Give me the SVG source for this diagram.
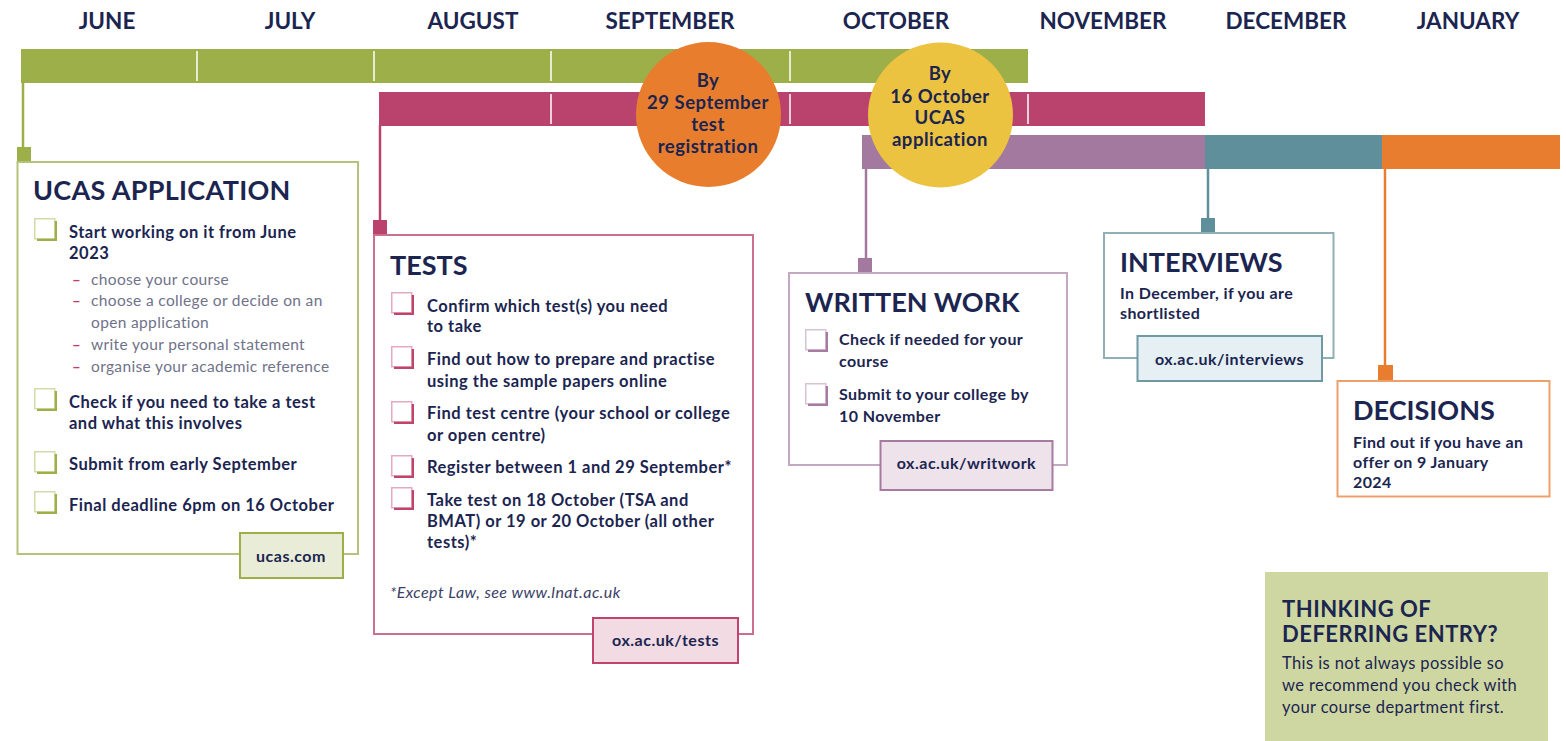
<svg xmlns="http://www.w3.org/2000/svg" width="1566" height="741" viewBox="0 0 1566 741">
<defs>
<style>
text{font-family:Lato,"Open Sans","Liberation Sans",sans-serif;fill:#1b2550}
.mon{font-size:22.5px;font-weight:700;text-anchor:middle}
.title{font-size:27px;font-weight:700}
.b{font-size:16.5px;font-weight:700;letter-spacing:0.5px}
.bs{font-size:16px;font-weight:700;letter-spacing:0.4px}
.sub{font-size:15.5px;fill:#70728a;letter-spacing:0.35px}
.dash{fill:#c23d6b;font-size:15px;font-weight:700}
.ct{font-size:18.5px;font-weight:700;text-anchor:middle;letter-spacing:0.5px}
.lnk{font-size:16px;font-weight:700;text-anchor:middle;letter-spacing:0.5px}
.div{stroke:#fff;stroke-width:1.5}
</style>
<symbol id="cb" viewBox="0 0 24 24" overflow="visible">
<rect x="3" y="3" width="20" height="20" fill="currentColor"/>
<rect x="0.75" y="0.75" width="20" height="20" fill="#fff" stroke="currentColor" stroke-opacity="0.45" stroke-width="1.5"/>
</symbol>
</defs>
<rect width="1566" height="741" fill="#fff"/>

<g id="months">
<text class="mon" x="107" y="29">JUNE</text>
<text class="mon" x="290" y="29">JULY</text>
<text class="mon" x="473" y="29">AUGUST</text>
<text class="mon" x="670" y="29">SEPTEMBER</text>
<text class="mon" x="896" y="29">OCTOBER</text>
<text class="mon" x="1103" y="29">NOVEMBER</text>
<text class="mon" x="1286" y="29">DECEMBER</text>
<text class="mon" x="1468" y="29">JANUARY</text>
</g>

<g id="connectors">
<rect x="21" y="49" width="1007" height="34" fill="#9daf48"/>
<line class="div" x1="197" y1="51" x2="197" y2="81"/>
<line class="div" x1="374" y1="51" x2="374" y2="81"/>
<line class="div" x1="551" y1="51" x2="551" y2="81"/>
<line class="div" x1="790" y1="51" x2="790" y2="81"/>
<rect x="379" y="92" width="826" height="34" fill="#b9436c"/>
<line class="div" x1="551" y1="94" x2="551" y2="124"/>
<line class="div" x1="790" y1="94" x2="790" y2="124"/>
<line class="div" x1="1028" y1="94" x2="1028" y2="124"/>
<rect x="862" y="135" width="343" height="34" fill="#a3799f"/>
<rect x="1205" y="135" width="177" height="34" fill="#5f8f9a"/>
<rect x="1382" y="135" width="178" height="34" fill="#e87d30"/>
<line x1="23" y1="82" x2="23" y2="150" stroke="#9daf48" stroke-width="2.5"/>
<rect x="17" y="147" width="14" height="15" fill="#9daf48"/>
<line x1="380" y1="125" x2="380" y2="222" stroke="#b9436c" stroke-width="2.5"/>
<rect x="373" y="220" width="14" height="15" fill="#b9436c"/>
<line x1="866" y1="168" x2="866" y2="260" stroke="#a3799f" stroke-width="2.5"/>
<rect x="858" y="258" width="14" height="15" fill="#a3799f"/>
<line x1="1208" y1="168" x2="1208" y2="220" stroke="#5f8f9a" stroke-width="2.5"/>
<rect x="1201" y="218" width="14" height="15" fill="#5f8f9a"/>
<line x1="1385" y1="168" x2="1385" y2="367" stroke="#e87d30" stroke-width="2.5"/>
<rect x="1378" y="365" width="15" height="15" fill="#e87d30"/>
</g>

<g id="deadline-tests">
<circle cx="708.5" cy="114.5" r="72.5" fill="#e87d2e"/>
<text class="ct" x="708" y="87">By</text>
<text class="ct" x="708" y="108.5">29 September</text>
<text class="ct" x="708" y="131">test</text>
<text class="ct" x="708" y="153">registration</text>
</g>

<g id="deadline-ucas">
<circle cx="940.5" cy="115" r="72.5" fill="#ecc340"/>
<text class="ct" x="940" y="80">By</text>
<text class="ct" x="940" y="102.5">16 October</text>
<text class="ct" x="940" y="124">UCAS</text>
<text class="ct" x="940" y="146">application</text>
</g>

<g id="ucas">
<rect x="17.5" y="162" width="340.5" height="392" fill="#fff" stroke="#b5c37a" stroke-width="2"/>
<text class="title" x="33" y="200" style="letter-spacing:0.3px">UCAS APPLICATION</text>
<use href="#cb" x="34" y="218" width="24" height="24" color="#9daf48"/>
<text class="b" x="69" y="238">Start working on it from June</text>
<text class="b" x="69" y="259">2023</text>
<text class="dash" x="72" y="285">–</text><text class="sub" x="91" y="285">choose your course</text>
<text class="dash" x="72" y="306">–</text><text class="sub" x="91" y="306">choose a college or decide on an</text>
<text class="sub" x="91" y="328">open application</text>
<text class="dash" x="72" y="350">–</text><text class="sub" x="91" y="350">write your personal statement</text>
<text class="dash" x="72" y="372">–</text><text class="sub" x="91" y="372">organise your academic reference</text>
<use href="#cb" x="34" y="388" width="24" height="24" color="#9daf48"/>
<text class="b" x="69" y="408">Check if you need to take a test</text>
<text class="b" x="69" y="429">and what this involves</text>
<use href="#cb" x="34" y="451" width="24" height="24" color="#9daf48"/>
<text class="b" x="69" y="470">Submit from early September</text>
<use href="#cb" x="34" y="491" width="24" height="24" color="#9daf48"/>
<text class="b" x="69" y="511">Final deadline 6pm on 16 October</text>
<rect x="240" y="533" width="103" height="45" fill="#e9edd7" stroke="#9daf48" stroke-width="2"/>
<text class="lnk" x="291" y="562">ucas.com</text>
</g>

<g id="tests">
<rect x="374" y="235" width="379" height="399" fill="#fff" stroke="#c9708f" stroke-width="2"/>
<text class="title" x="390" y="275">TESTS</text>
<use href="#cb" x="391" y="292" width="24" height="24" color="#c0446c"/>
<text class="b" x="427" y="312">Confirm which test(s) you need</text>
<text class="b" x="427" y="332">to take</text>
<use href="#cb" x="391" y="346" width="24" height="24" color="#c0446c"/>
<text class="b" x="427" y="365">Find out how to prepare and practise</text>
<text class="b" x="427" y="387">using the sample papers online</text>
<use href="#cb" x="391" y="401" width="24" height="24" color="#c0446c"/>
<text class="b" x="427" y="419">Find test centre (your school or college</text>
<text class="b" x="427" y="441">or open centre)</text>
<use href="#cb" x="391" y="455" width="24" height="24" color="#c0446c"/>
<text class="b" x="427" y="473">Register between 1 and 29 September*</text>
<use href="#cb" x="391" y="487" width="24" height="24" color="#c0446c"/>
<text class="b" x="427" y="506">Take test on 18 October (TSA and</text>
<text class="b" x="427" y="527">BMAT) or 19 or 20 October (all other</text>
<text class="b" x="427" y="548">tests)*</text>
<text x="390" y="598" style="font-size:16px;font-style:italic;fill:#3a4166;letter-spacing:0.45px">*Except Law, see www.lnat.ac.uk</text>
<rect x="593" y="618" width="145" height="45" fill="#f2dbe3" stroke="#c0446c" stroke-width="2"/>
<text class="lnk" x="665.5" y="646">ox.ac.uk/tests</text>
</g>

<g id="written-work">
<rect x="789" y="273" width="278" height="192" fill="#fff" stroke="#c4a7c0" stroke-width="2"/>
<text class="title" x="805" y="312">WRITTEN WORK</text>
<use href="#cb" x="805" y="329" width="24" height="24" color="#a77ba0"/>
<text class="bs" x="839" y="345">Check if needed for your</text>
<text class="bs" x="839" y="367">course</text>
<use href="#cb" x="805" y="383" width="24" height="24" color="#a77ba0"/>
<text class="bs" x="839" y="400">Submit to your college by</text>
<text class="bs" x="839" y="422">10 November</text>
<rect x="880.5" y="441" width="172" height="49" fill="#eee2eb" stroke="#a77ba0" stroke-width="2"/>
<text class="lnk" x="966.5" y="469">ox.ac.uk/writwork</text>
</g>

<g id="interviews">
<rect x="1104" y="233" width="229.5" height="125" fill="#fff" stroke="#8fb0b6" stroke-width="2"/>
<text class="title" x="1120" y="272">INTERVIEWS</text>
<text class="bs" x="1120" y="299">In December, if you are</text>
<text class="bs" x="1120" y="319">shortlisted</text>
<rect x="1137.5" y="336" width="184.5" height="45" fill="#e6f0f4" stroke="#6f9aa3" stroke-width="2"/>
<text class="lnk" x="1229.5" y="365">ox.ac.uk/interviews</text>
</g>

<g id="decisions">
<rect x="1337.5" y="381" width="212" height="115.5" fill="#fff" stroke="#eea06a" stroke-width="2"/>
<text class="title" x="1353" y="420">DECISIONS</text>
<text class="bs" x="1353" y="448">Find out if you have an</text>
<text class="bs" x="1353" y="468">offer on 9 January</text>
<text class="bs" x="1353" y="488">2024</text>
</g>

<g id="deferring">
<rect x="1265" y="572" width="283" height="169" fill="#ced7a1"/>
<text x="1282" y="617" style="font-size:22px;font-weight:700;letter-spacing:0.5px">THINKING OF</text>
<text x="1282" y="642" style="font-size:22px;font-weight:700;letter-spacing:0.5px">DEFERRING ENTRY?</text>
<text x="1282" y="669" style="font-size:16.5px;letter-spacing:0.4px">This is not always possible so</text>
<text x="1282" y="691" style="font-size:16.5px;letter-spacing:0.4px">we recommend you check with</text>
<text x="1282" y="713" style="font-size:16.5px;letter-spacing:0.4px">your course department first.</text>
</g>
</svg>
